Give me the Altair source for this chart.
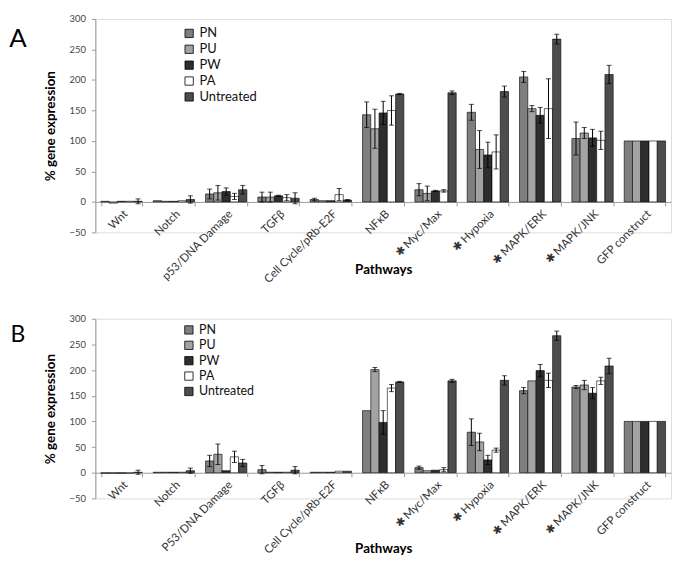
import altair as alt
import pandas as pd

# ---------------- data ----------------
series = ["PN", "PU", "PW", "PA", "Untreated"]
cats_A = ["Wnt", "Notch", "p53/DNA Damage", "TGFβ", "Cell Cycle/pRb-E2F", "NFκB",
          "Myc/Max", "Hypoxia", "MAPK/ERK", "MAPK/JNK", "GFP construct"]
cats_B = ["Wnt", "Notch", "P53/DNA Damage", "TGFβ", "Cell Cycle/pRb-E2F", "NFκB",
          "Myc/Max", "Hypoxia", "MAPK/ERK", "MAPK/JNK", "GFP construct"]
significant = [False, False, False, False, False, False, True, True, True, True, False]
y_ticks = [-50, 0, 50, 100, 150, 200, 250, 300]

# Panel A values (per series, over the 11 pathways)
A_PN = [1, 2, 13, 8, 4, 143, 20, 147, 205, 104, 100]
A_PU = [-2, 1, 15, 8, 2, 120, 14, 86, 153, 113, 100]
A_PW = [1, 1, 17, 10, 2, 146, 18, 77, 142, 105, 100]
A_PA = [1, 2, 9, 7, 12, 150, 18, 82, 153, 101, 100]
A_UN = [1, 4, 20, 6, 3, 177, 179, 181, 267, 209, 100]
A_PN_err = [0, 0, 8, 8, 2, 21, 10, 13, 9, 27, 0]
A_PU_err = [0, 0, 12, 8, 0, 32, 12, 31, 5, 9, 0]
A_PW_err = [0, 0, 6, 1, 0, 19, 1, 21, 13, 14, 0]
A_PA_err = [0, 0, 5, 5, 10, 24, 2, 28, 49, 15, 0]
A_UN_err = [4, 6, 7, 9, 1, 1, 3, 9, 8, 15, 0]

# Panel B values
B_PN = [-1, 1, 23, 6, 1, 121, 10, 79, 160, 167, 100]
B_PU = [-1, 1, 36, 1, 1, 201, 4, 60, 179, 171, 100]
B_PW = [-1, 1, 4, 1, 1, 98, 5, 25, 199, 155, 100]
B_PA = [-1, 1, 31, 1, 3, 165, 6, 44, 180, 179, 100]
B_UN = [1, 4, 19, 5, 3, 177, 179, 180, 267, 208, 100]
B_PN_err = [0, 0, 11, 8, 0, 0, 3, 26, 6, 3, 0]
B_PU_err = [0, 0, 20, 0, 0, 4, 0, 17, 0, 9, 0]
B_PW_err = [0, 0, 0, 0, 0, 23, 0, 9, 12, 11, 0]
B_PA_err = [0, 0, 11, 0, 0, 7, 4, 4, 14, 7, 0]
B_UN_err = [4, 5, 7, 7, 0, 1, 3, 9, 9, 15, 0]

colors = ["#7f7f7f", "#a3a3a3", "#2e2e2e", "#ffffff", "#4d4d4d"]
FONT = "Lato"


def labels(cats):
    return [("✱  " + c) if s else c for c, s in zip(cats, significant)]


def frame(cats, vals, errs):
    rows = []
    labs = labels(cats)
    for s, v, e in zip(series, vals, errs):
        for c, vv, ee in zip(labs, v, e):
            rows.append({"cat": c, "series": s, "value": vv, "err": ee,
                         "lo": vv - ee, "hi": vv + ee})
    return pd.DataFrame(rows), labs


def panel(letter, cats, vals, errs, height, legend_y, letter_y, letter_size,
          legend_font, row_pad, title_y):
    df, labs = frame(cats, vals, errs)
    zero_off = -height * 50 / 350
    x_axis = alt.Axis(title="Pathways", labelAngle=-45, offset=zero_off,
                      tickBand="extent", tickSize=4, domainColor="#9a9a9a",
                      tickColor="#9a9a9a", labelFontSize=11.5, labelColor="#333",
                      labelFont=FONT, titleFont=FONT, titleFontSize=13.5,
                      titleFontWeight="bold", titleY=title_y, labelPadding=2)
    y_axis = alt.Axis(values=y_ticks, labelOverlap=False, labelFlush=False,
                      title="% gene expression", grid=False, tickSize=4,
                      domainColor="#9a9a9a", tickColor="#9a9a9a",
                      labelColor="#444", labelFontSize=9.5, labelFont=FONT,
                      labelPadding=6,
                      titleFont=FONT, titleFontSize=13.5, titleFontWeight="bold",
                      titlePadding=12)
    xscale = alt.Scale(paddingInner=0.21, paddingOuter=0.105)
    x = alt.X("cat:N", sort=labs, scale=xscale, axis=x_axis)
    xo = alt.XOffset("series:N", sort=series,
                     scale=alt.Scale(domain=series, paddingInner=0, paddingOuter=0))
    yscale = alt.Scale(domain=[-50, 300], nice=False, zero=False)
    base = alt.Chart(df)
    bars = base.mark_bar(stroke="black", strokeWidth=0.6).encode(
        x=x, xOffset=xo,
        y=alt.Y("value:Q", scale=yscale, axis=y_axis),
        y2=alt.datum(0),
        fill=alt.Fill("series:N", scale=alt.Scale(domain=series, range=colors),
                      legend=alt.Legend(orient="none", legendX=88, legendY=legend_y,
                                        title=None, symbolType="square", symbolSize=70,
                                        symbolStrokeColor="black", symbolStrokeWidth=0.8,
                                        labelFontSize=legend_font, labelFont=FONT,
                                        labelColor="#111", rowPadding=row_pad,
                                        labelOffset=4, padding=0)),
    )
    eb = base.transform_filter("datum.err > 0")
    rules = eb.mark_rule(color="black", strokeWidth=1).encode(
        x=x, xOffset=xo, y=alt.Y("lo:Q", scale=yscale, axis=y_axis), y2="hi:Q")
    caps_hi = eb.mark_tick(color="black", size=5, thickness=1, orient="horizontal").encode(
        x=x, xOffset=xo, y=alt.Y("hi:Q", scale=yscale, axis=y_axis))
    caps_lo = eb.mark_tick(color="black", size=5, thickness=1, orient="horizontal").encode(
        x=x, xOffset=xo, y=alt.Y("lo:Q", scale=yscale, axis=y_axis))
    letter_mark = alt.Chart(pd.DataFrame({"t": [letter]})).mark_text(
        fontSize=letter_size, font=FONT, color="black", align="center", baseline="middle"
    ).encode(text="t:N", x=alt.value(-78), y=alt.value(letter_y))
    return alt.layer(bars, rules, caps_hi, caps_lo, letter_mark).properties(
        width=580, height=height)


chart_A = panel("A", cats_A, [A_PN, A_PU, A_PW, A_PA, A_UN],
                [A_PN_err, A_PU_err, A_PW_err, A_PA_err, A_UN_err],
                215, 8, 20, 26, 13, 2, 61)
chart_B = panel("B", cats_B, [B_PN, B_PU, B_PW, B_PA, B_UN],
                [B_PN_err, B_PU_err, B_PW_err, B_PA_err, B_UN_err],
                181, 5, 16, 23, 12.5, 2.5, 69)

chart = alt.vconcat(chart_A, chart_B, spacing=27).resolve_scale(
    fill="independent").properties(
    padding={"left": 0, "top": 3, "right": 5, "bottom": 5}
).configure_view(stroke=None).configure(background="white").configure_axisY(
    labelOverlap=False)

chart.save("out.html", embed_options={"renderer": "svg", "actions": False})
